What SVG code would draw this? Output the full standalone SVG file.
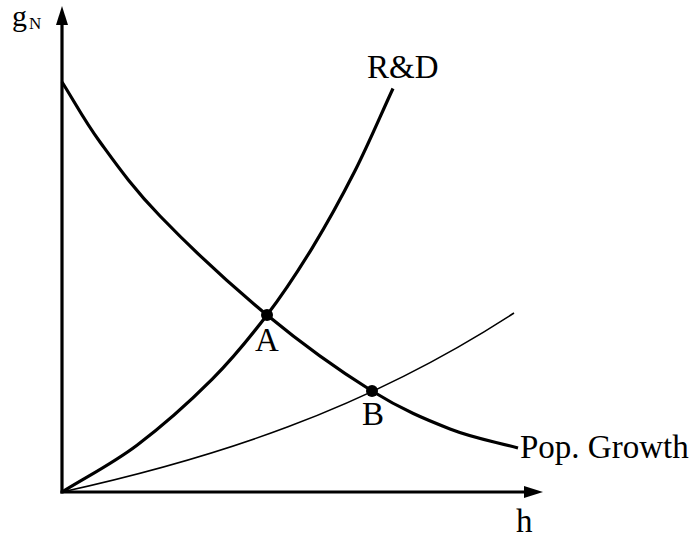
<svg xmlns="http://www.w3.org/2000/svg" width="693" height="538" viewBox="0 0 693 538">
<style>
text{font-family:"Liberation Serif","Times New Roman",serif;fill:#000}
.lbl{font-size:33px}
.thick{fill:none;stroke:#000;stroke-width:3.2}
.thin{fill:none;stroke:#000;stroke-width:1.5}
.axis{fill:none;stroke:#000;stroke-width:3.2}
</style>
<rect width="693" height="538" fill="#fff"/>
<g id="axes">
<line class="axis" x1="62" y1="493.5" x2="62" y2="22"/>
<polygon points="62,6 56,25 68,25" fill="#000"/>
<line class="axis" x1="60.4" y1="492" x2="526" y2="492"/>
<polygon points="543,492 524,486 524,498" fill="#000"/>
<text x="12" y="26" font-size="30">g</text>
<text x="29" y="29" font-size="17">N</text>
<text class="lbl" x="516" y="532">h</text>
</g>
<g id="connectors">
<path id="rd" class="thick" d="M62,492 C87,476.4 112,464 137,445.2 C162,426.4 190.3,401.1 212,379.4 C233.7,357.7 250.3,336.9 267,315 C283.7,293.2 297.3,272.3 312,248.3 C326.7,224.3 341.5,197.4 355,170.8 C368.5,144.2 380.3,115.9 393,88.5"/>
<path id="pop" class="thick" d="M62,82 C74.7,102 83.7,119.7 100,142 C116.3,164.3 132.2,187.2 160,216 C187.8,244.8 231.7,285.8 267,315 C302.3,344.2 341.5,372 372,391 C402.5,410 425.7,419.5 450,429 C474.3,438.5 495.3,441.7 518,448"/>
<path id="thinc" class="thin" d="M62,492 C212.7,458.8 363.3,411 514,313"/>
</g>
<g id="labels">
<text class="lbl" x="367" y="78">R&amp;D</text>
<text class="lbl" x="520" y="458">Pop. Growth</text>
</g>
<g id="pointA">
<circle cx="267" cy="315" r="6"/>
<text class="lbl" x="267" y="351" text-anchor="middle">A</text>
</g>
<g id="pointB">
<circle cx="372" cy="391" r="6"/>
<text class="lbl" x="373" y="425" text-anchor="middle">B</text>
</g>
</svg>
